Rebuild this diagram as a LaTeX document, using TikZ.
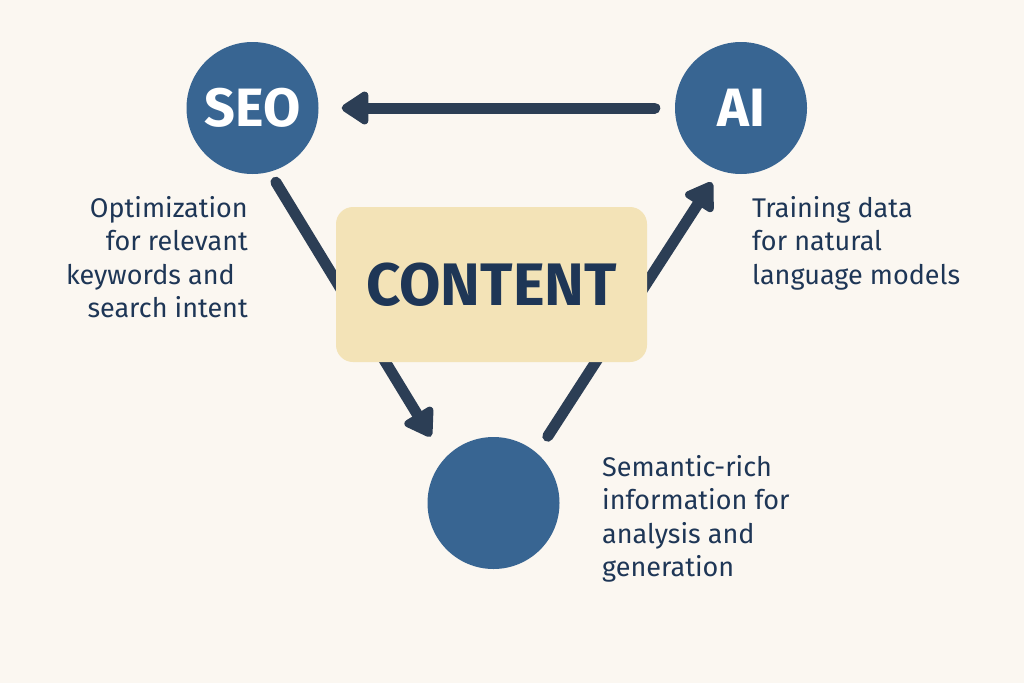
\documentclass[tikz,border=0pt]{standalone}
\usepackage{fontspec}
\setmainfont{Fira Sans}
\usetikzlibrary{arrows.meta}
\definecolor{bgc}{HTML}{FBF7F1}
\definecolor{circc}{HTML}{386592}
\definecolor{arrc}{HTML}{2C3E55}
\definecolor{txtc}{HTML}{1E3656}
\definecolor{boxc}{HTML}{F3E3B7}
\tikzset{
  hub/.style={circle, fill=circc, minimum size=132pt, inner sep=0pt, text=white,
    font=\fontsize{54pt}{60pt}\selectfont\bfseries},
  flow/.style={draw=arrc, line width=11pt, line cap=round,
    -{Triangle[length=30pt,width=37pt,round=false]}},
  note/.style={text=txtc, font=\fontsize{27pt}{33.5pt}\selectfont, inner sep=0pt},
  cbox/.style={fill=boxc, rounded corners=17pt, minimum width=311pt, minimum height=155pt,
    text=txtc, font=\fontsize{60pt}{64pt}\selectfont\bfseries},
}
\begin{document}
\begin{tikzpicture}[x=1pt,y=-1pt]
\fill[bgc] (0,0) rectangle (1024,683);
\useasboundingbox (0,0) rectangle (1024,683);
\node[hub] (seo) at (252.5,108) {SEO};
\node[hub] (ai) at (741,108) {AI};
\node[hub] (bot) at (493.5,503) {};
\draw[flow, shorten <=20pt, shorten >=23pt] (ai) -- (seo);
\draw[flow, shorten <=12pt, shorten >=26pt] (seo.-75.7) -- (bot.138.3);
\draw[flow, shorten <=20pt, shorten >=14pt] (bot.49) -- (ai.251);
\node[cbox] (content) at (491.5,284.5) {CONTENT};
\node[note, anchor=north east, align=right] (seotxt) at (248,196) {Optimization\\for relevant\\keywords and\rule{13pt}{0pt}\\search intent};
\node[note, anchor=north west, align=left] (aitxt) at (752,196) {Training data\\for natural\\language models};
\node[note, anchor=north west, align=left] (bottxt) at (602,455) {Semantic-rich\\information for\\analysis and\\generation};
\end{tikzpicture}
\end{document}
